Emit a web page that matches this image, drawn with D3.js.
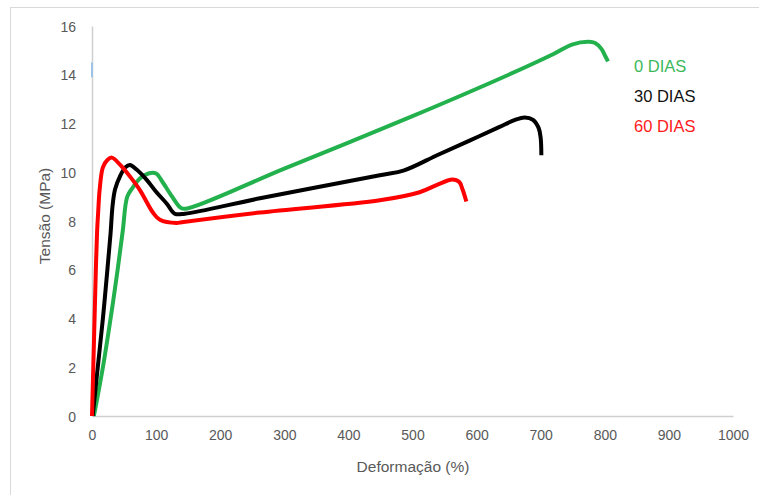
<!DOCTYPE html>
<html>
<head>
<meta charset="utf-8">
<script src="https://cdn.jsdelivr.net/npm/d3@7/dist/d3.min.js"></script>
<style>
  html, body { margin: 0; padding: 0; background: #fff; }
  svg { display: block; }
  text { font-family: "Liberation Sans", Arial, sans-serif; }
</style>
</head>
<body>
<svg id="chart" width="759" height="495"></svg>
<script>
// Stress–strain curves (strain %, stress MPa)
const dias0 = [
  [3, 0], [17, 2], [29, 4], [40, 6], [48, 7.6], [55, 9.0], [63, 9.35], [75, 9.75],
  [88, 9.95], [100, 9.95], [110, 9.6], [125, 9.0], [138, 8.55], [146, 8.5],
  [300, 10.15], [500, 12.3], [650, 14.0], [720, 14.85], [750, 15.25], [775, 15.35],
  [785, 15.3], [795, 15.05], [800, 14.8], [805, 14.55]
];
const dias30 = [
  [1, 0], [9, 2], [17, 4], [24, 6], [29, 7.5], [32, 8.6], [36, 9.3], [44, 9.85],
  [52, 10.2], [59, 10.3], [70, 10.1], [85, 9.7], [100, 9.2], [117, 8.7], [129, 8.3],
  [145, 8.3], [262, 8.93], [449, 9.88], [487, 10.08], [540, 10.72], [589, 11.3],
  [635, 11.85], [660, 12.15], [675, 12.25], [688, 12.15], [697, 11.8], [700, 11.4], [701, 10.7]
];
const dias60 = [
  [0, 0], [2, 2], [4, 4], [6, 6], [8, 7.6], [9.5, 8.3], [12, 9.3], [17, 10.2],
  [24, 10.5], [31, 10.6], [44, 10.3], [60, 9.8], [75, 9.26], [95, 8.35], [106, 8.05],
  [132, 7.92], [140, 7.95], [262, 8.35], [449, 8.85], [511, 9.18], [540, 9.5],
  [562, 9.7], [573, 9.6], [578, 9.3], [584, 8.8]
];
// Short segment sitting on the vertical axis
const axisMark = [[0, 13.9], [0, 14.5]];

const seriesNames = ["0 DIAS", "30 DIAS", "60 DIAS"];
const seriesColors = ["#22b14c", "#000000", "#ff0000"];
const legendColors = ["#3cb85a", "#111111", "#ff1a1a"];
const xTicks = [0, 100, 200, 300, 400, 500, 600, 700, 800, 900, 1000];
const yTicks = [0, 2, 4, 6, 8, 10, 12, 14, 16];

const svg = d3.select("#chart");

// chart frame
svg.append("rect")
  .attr("x", 10.5).attr("y", 7.5)
  .attr("width", 800).attr("height", 600)
  .attr("fill", "none").attr("stroke", "#d9d9d9").attr("stroke-width", 1);

const x = d3.scaleLinear().domain([0, 1000]).range([92, 733]);
const y = d3.scaleLinear().domain([0, 16]).range([416, 26]);

// axes
const xAxis = svg.append("g").attr("transform", `translate(0,${y(0)})`)
  .call(d3.axisBottom(x).tickValues(xTicks).tickSize(0).tickPadding(14).tickFormat(d3.format("d")));
const yAxis = svg.append("g").attr("transform", `translate(${x(0)},0)`)
  .call(d3.axisLeft(y).tickValues(yTicks).tickSize(0).tickPadding(16).tickFormat(d3.format("d")));

[xAxis, yAxis].forEach(g => {
  g.select(".domain").attr("stroke", "#d0d0d0").attr("stroke-width", 1.5);
  g.selectAll("text").attr("fill", "#595959").style("font-size", "14px")
    .style("font-family", "'Liberation Sans', Arial, sans-serif");
});
yAxis.selectAll("text").attr("dy", "0.36em");

// axis titles
svg.append("text")
  .attr("x", 413).attr("y", 472)
  .attr("text-anchor", "middle")
  .attr("fill", "#595959").style("font-size", "15.5px")
  .text("Deformação (%)");
svg.append("text")
  .attr("transform", `translate(50,216) rotate(-90)`)
  .attr("text-anchor", "middle")
  .attr("fill", "#595959").style("font-size", "15.5px")
  .text("Tensão (MPa)");

const line = d3.line()
  .x(d => x(d[0])).y(d => y(d[1]))
  .curve(d3.curveCatmullRom.alpha(0.5));

svg.append("path")
  .datum(axisMark)
  .attr("d", d3.line().x(d => x(d[0])).y(d => y(d[1])))
  .attr("stroke", "#9dc3e6").attr("stroke-width", 2).attr("fill", "none");

[dias0, dias30, dias60].forEach((data, i) => {
  svg.append("path")
    .datum(data)
    .attr("d", line)
    .attr("fill", "none")
    .attr("stroke", seriesColors[i])
    .attr("stroke-width", 4)
    .attr("stroke-linejoin", "round")
    .attr("stroke-linecap", "butt");
});

// legend labels
const legend = svg.append("g");
seriesNames.forEach((name, i) => {
  legend.append("text")
    .attr("x", 634).attr("y", 72 + i * 30)
    .attr("fill", legendColors[i])
    .style("font-size", "16.5px")
    .text(name);
});
</script>
</body>
</html>
